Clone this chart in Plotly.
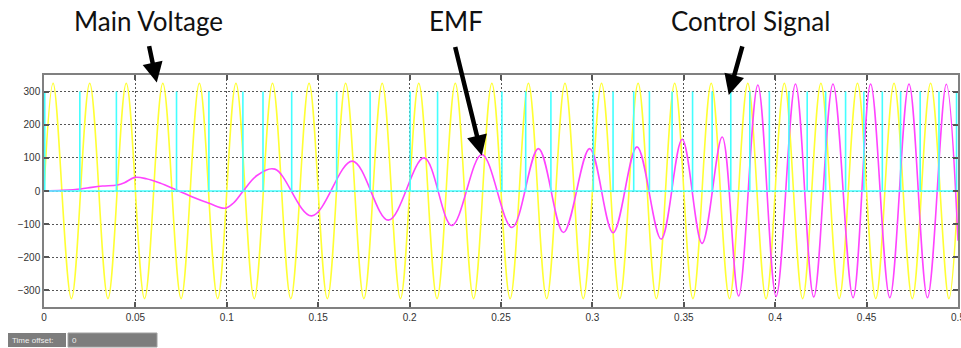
import plotly.graph_objects as go

# ---- data ----
# Main voltage (yellow): extrema of the 50 Hz supply
main_t = [0.0, 0.005, 0.015, 0.025, 0.035, 0.045, 0.055, 0.065, 0.075, 0.085, 0.095,
          0.105, 0.115, 0.125, 0.135, 0.145, 0.155, 0.165, 0.175, 0.185, 0.195,
          0.205, 0.215, 0.225, 0.235, 0.245, 0.255, 0.265, 0.275, 0.285, 0.295,
          0.305, 0.315, 0.325, 0.335, 0.345, 0.355, 0.365, 0.375, 0.385, 0.395,
          0.405, 0.415, 0.425, 0.435, 0.445, 0.455, 0.465, 0.475, 0.485, 0.495, 0.5]
main_v = [0, 325, -325, 325, -325, 325, -325, 325, -325, 325, -325,
          325, -325, 325, -325, 325, -325, 325, -325, 325, -325,
          325, -325, 325, -325, 325, -325, 325, -325, 325, -325,
          325, -325, 325, -325, 325, -325, 325, -325, 325, -325,
          325, -325, 325, -325, 325, -325, 325, -325, 325, -325, 0]

# EMF (magenta)
emf_t = [0.000, 0.010, 0.020, 0.026, 0.032, 0.040, 0.044, 0.0497, 0.056, 0.0634, 0.0725,
         0.0816, 0.0907, 0.099, 0.1035, 0.109, 0.1163, 0.1263,
         0.1464, 0.1687, 0.1884, 0.2079, 0.2231, 0.2395, 0.2560, 0.2705, 0.2842,
         0.2985, 0.3113, 0.3244, 0.3376, 0.3491, 0.3600, 0.3710, 0.3800, 0.3905,
         0.4005, 0.4111, 0.4211, 0.4316, 0.4426, 0.4522, 0.4627, 0.4732, 0.4833,
         0.4936, 0.5000]
emf_v = [0, 2, 6, 11, 15, 18, 25, 41, 37, 24, 3,
         -19, -38, -52, -37, 0, 46, 66,
         -75, 90, -88, 100, -104, 110, -110, 128, -125,
         128, -126, 133, -145, 156, -158, 163, -317, 320,
         -318, 323, -320, 323, -322, 323, -322, 323, -322,
         322, -150]

# Control signal (cyan): pulse instants, pulse height
pulse_t = [0.0004, 0.0196, 0.0396, 0.0725, 0.0902, 0.1088, 0.1198, 0.1355, 0.1601,
           0.1784, 0.2003, 0.2153, 0.2505, 0.2635, 0.2773, 0.3005, 0.3113, 0.3226,
           0.3312, 0.3436, 0.3548, 0.3655, 0.3757, 0.3861, 0.3968, 0.4075, 0.4175,
           0.4276, 0.4385, 0.4485, 0.4586, 0.4686, 0.4793, 0.4896, 0.4992]
pulse_high = 300

x_ticks = [0, 0.05, 0.1, 0.15, 0.2, 0.25, 0.3, 0.35, 0.4, 0.45, 0.5]
x_labels = ["0", "0.05", "0.1", "0.15", "0.2", "0.25", "0.3", "0.35", "0.4", "0.45", "0.5"]
y_ticks = [-300, -200, -100, 0, 100, 200, 300]

# ---- build control-signal trace ----
cx, cy = [0.0], [0.0]
for t in pulse_t:
    cx += [t, t, t]
    cy += [0, pulse_high, 0]
cx.append(0.5)
cy.append(0)

fig = go.Figure()
fig.add_trace(go.Scatter(x=main_t, y=main_v, mode="lines",
                         line=dict(color="#ffff33", width=1.6, shape="spline"),
                         hoverinfo="skip"))
fig.add_trace(go.Scatter(x=emf_t, y=emf_v, mode="lines",
                         line=dict(color="#ff44ff", width=1.6, shape="spline"),
                         hoverinfo="skip"))
fig.add_trace(go.Scatter(x=cx, y=cy, mode="lines",
                         line=dict(color="#44ffff", width=1.6),
                         hoverinfo="skip"))

axis_common = dict(showline=True, linecolor="#808080", linewidth=1.5, mirror="ticks",
                   ticks="inside", ticklen=5, tickwidth=1.5, tickcolor="#555555",
                   showgrid=True, gridcolor="#555555", gridwidth=1, griddash="2px,2px",
                   zeroline=False, automargin=False,
                   tickfont=dict(family="Liberation Sans", size=10, color="#333333"))

fig.update_xaxes(range=[0, 0.5], tickvals=x_ticks, ticktext=x_labels,
                 ticklabeloverflow="allow", **axis_common)
fig.update_yaxes(range=[-350, 350], tickvals=y_ticks, **axis_common)

L, R, T, B = 44, 3, 75, 41
W, H = 961, 348
pw, ph = W - L - R, H - T - B

def px(xp):
    return (xp - L) / pw

def py(yp):
    return (H - B - yp) / ph

annos = []
title_font = dict(family="Lato", size=26, color="#111111")
for text, cxp in [("Main Voltage", 148), ("EMF", 456), ("Control Signal", 750)]:
    annos.append(dict(text=text, x=px(cxp), y=py(21), xref="paper", yref="paper",
                      showarrow=False, font=title_font, xanchor="center", yanchor="middle"))

for (tx, ty, ax, ay) in [(0.0617, 327, -8, -38), (0.2395, 107, -27, -110), (0.3746, 290, 14, -50)]:
    annos.append(dict(text="", x=tx, y=ty, xref="x", yref="y", ax=ax, ay=ay,
                      showarrow=True, arrowhead=2, arrowsize=0.9, arrowwidth=4.5,
                      arrowcolor="#000000"))

# Time offset box
annos.append(dict(text="Time offset:", x=px(10), y=py(340), xref="paper", yref="paper",
                  showarrow=False, xanchor="left", yanchor="middle",
                  font=dict(family="Liberation Sans", size=8, color="#f0f0f0")))
annos.append(dict(text="0", x=px(70), y=py(340), xref="paper", yref="paper",
                  showarrow=False, xanchor="left", yanchor="middle",
                  font=dict(family="Liberation Sans", size=8, color="#f0f0f0")))

shapes = [
    dict(type="rect", xref="paper", yref="paper", x0=px(8), x1=px(66), y0=py(347), y1=py(333),
         fillcolor="#7d7d7d", line=dict(width=0), layer="below"),
    dict(type="rect", xref="paper", yref="paper", x0=px(68), x1=px(157), y0=py(347), y1=py(333),
         fillcolor="#7d7d7d", line=dict(color="#a0a0a0", width=1), layer="below"),
]

fig.update_layout(width=W, height=H, margin=dict(l=L, r=R, t=T, b=B, autoexpand=False),
                  paper_bgcolor="white", plot_bgcolor="white", showlegend=False,
                  annotations=annos, shapes=shapes)

fig.write_html("out.html", config={"displayModeBar": False},
               post_script="document.body.style.margin='0';document.body.style.padding='0';"
                           "document.body.style.overflow='hidden';")
